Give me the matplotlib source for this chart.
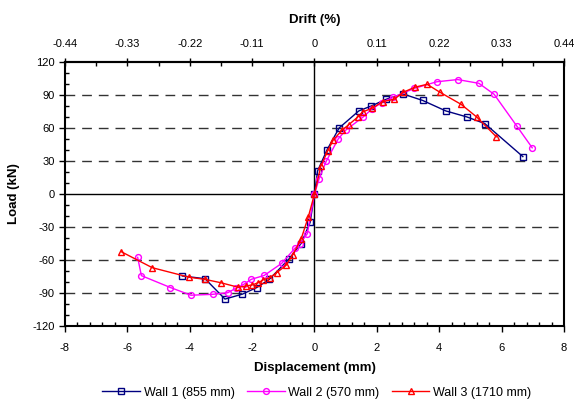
import matplotlib
matplotlib.use("Agg")
import matplotlib.pyplot as plt
from matplotlib.ticker import MultipleLocator

plt.rcParams['font.family'] = ['Liberation Sans', 'DejaVu Sans']
plt.rcParams['axes.unicode_minus'] = False

# Wall 1 (855 mm)
w1_x = [-4.24, -3.51, -2.87, -2.31, -1.85, -1.45, -0.81, -0.43, -0.14, 0.0,
        0.10, 0.40, 0.79, 1.42, 1.82, 2.29, 2.83, 3.47, 4.21, 4.89, 5.46, 6.68]
w1_y = [-74.5, -77.0, -95.5, -91.0, -85.0, -77.6, -58.8, -45.0, -25.8, 0.0,
        21.0, 40.0, 60.0, 75.5, 80.0, 86.0, 91.0, 85.0, 75.5, 70.0, 64.0, 34.0]

# Wall 2 (570 mm)
w2_x = [-5.67, -5.55, -4.62, -3.96, -3.27, -2.78, -2.53, -2.26, -2.03, -1.61,
        -1.05, -0.63, -0.46, -0.23, 0.0, 0.15, 0.38, 0.76, 1.0, 1.56, 1.83,
        2.15, 2.53, 3.2, 3.92, 4.59, 5.27, 5.76, 6.48, 6.98]
w2_y = [-57.6, -74.2, -85.0, -92.0, -91.2, -89.7, -85.8, -82.0, -77.6, -74.0,
        -63.0, -49.4, -45.0, -36.0, 0.0, 14.0, 30.0, 50.0, 58.0, 70.0, 77.0,
        83.0, 88.0, 96.0, 102.0, 104.0, 100.6, 90.6, 62.0, 42.0]

# Wall 3 (1710 mm)
w3_x = [-6.2, -5.2, -4.01, -3.51, -3.01, -2.44, -2.2, -2.0, -1.8, -1.64,
        -1.43, -1.21, -0.91, -0.70, -0.43, -0.2, 0.0, 0.2, 0.42, 0.6, 0.88,
        1.1, 1.39, 1.54, 1.85, 2.19, 2.55, 2.85, 3.21, 3.61, 4.02, 4.7, 5.2, 5.83]
w3_y = [-52.4, -67.0, -75.7, -77.6, -80.6, -84.8, -83.6, -82.7, -80.6, -78.0,
        -76.0, -71.5, -64.8, -55.5, -41.0, -21.0, 0.0, 25.0, 39.0, 49.0, 58.0,
        63.0, 70.0, 74.5, 78.0, 84.0, 86.0, 92.5, 97.0, 99.7, 92.5, 81.5, 70.0, 52.0]

drift_ticks = [-0.44, -0.33, -0.22, -0.11, 0, 0.11, 0.22, 0.33, 0.44]
drift_per_mm = 0.44 / 8

fig = plt.figure(figsize=(5.74, 4.05), dpi=100)
ax = fig.add_axes([0.1132, 0.195, 0.8694, 0.652])

for yv in [-90, -60, -30, 30, 60, 90]:
    ax.axhline(yv, color='#333333', lw=1.0, dashes=(7, 5), zorder=1)
ax.axhline(0, color='black', lw=1.0, zorder=1)
ax.axvline(0, color='black', lw=1.0, zorder=1)

ax.plot(w1_x, w1_y, color='#000080', lw=1.0, marker='s', ms=4.2, mfc='none',
        mew=1.0, label='Wall 1 (855 mm)', zorder=3)
ax.plot(w2_x, w2_y, color='#FF00FF', lw=1.0, marker='o', ms=4.2, mfc='none',
        mew=1.0, label='Wall 2 (570 mm)', zorder=3)
ax.plot(w3_x, w3_y, color='#FF0000', lw=1.0, marker='^', ms=4.8, mfc='none',
        mew=1.0, label='Wall 3 (1710 mm)', zorder=4)

ax.set_xlim(-8, 8)
ax.set_ylim(-120, 120)
ax.xaxis.set_major_locator(MultipleLocator(2))
ax.xaxis.set_minor_locator(MultipleLocator(0.4))
ax.yaxis.set_major_locator(MultipleLocator(30))
ax.yaxis.set_minor_locator(MultipleLocator(10))
ax.tick_params(which='major', direction='out', length=4, width=1, labelsize=8)
ax.tick_params(which='minor', direction='in', length=3, width=1)
ax.tick_params(axis='x', pad=8)
for s in ax.spines.values():
    s.set_linewidth(1.5)

ax.set_xlabel('Displacement (mm)', fontsize=9.5, fontweight='bold', labelpad=7)
ax.set_ylabel('Load (kN)', fontsize=9.5, fontweight='bold', labelpad=9)

top = ax.secondary_xaxis('top', functions=(lambda d: d * drift_per_mm,
                                           lambda p: p / drift_per_mm))
top.set_xticks(drift_ticks)
top.set_xticklabels([('%g' % t) for t in drift_ticks])
top.xaxis.set_minor_locator(MultipleLocator(0.055))
top.tick_params(which='major', direction='inout', length=6, width=1,
                labelsize=8, pad=6)
top.tick_params(which='minor', direction='in', length=3, width=1)
top.spines['top'].set_linewidth(1.5)
top.set_xlabel('Drift (%)', fontsize=9.5, fontweight='bold', labelpad=12)

fig.legend(loc='lower center', bbox_to_anchor=(0.552, -0.012), ncol=3, frameon=False,
           fontsize=9, handlelength=3, columnspacing=1.0, handletextpad=0.3)

fig.savefig('out.png', dpi=100)
